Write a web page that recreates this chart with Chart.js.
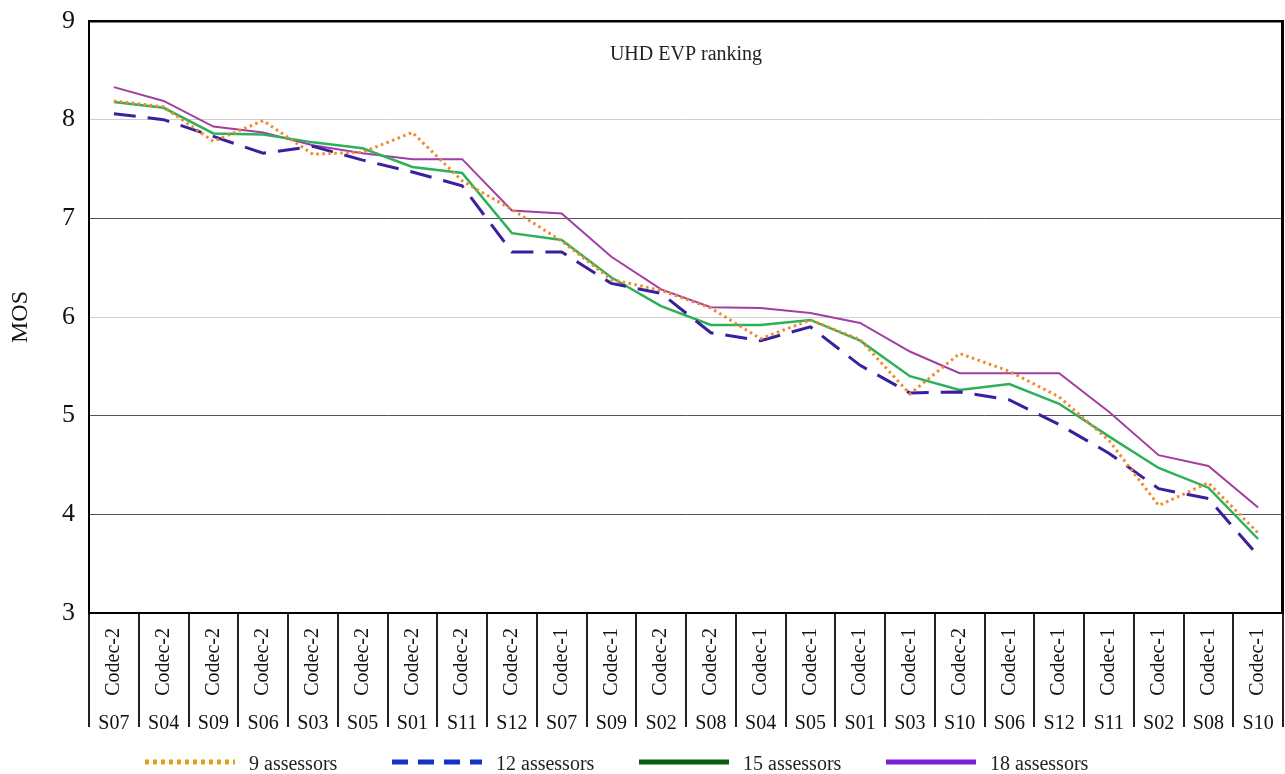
<!DOCTYPE html>
<html lang="en">
<head>
<meta charset="utf-8">
<title>UHD EVP ranking</title>
<script src="https://cdn.jsdelivr.net/npm/chart.js@4.4.1/dist/chart.umd.min.js"></script>
<style>
    html, body { margin: 0; padding: 0; background: #ffffff; }
    #graficoMOS { display: block; }
</style>
</head>
<body>
<canvas id="graficoMOS" width="1285" height="774"></canvas>
<script>
// Datos (orden del ranking)
const codecs = ['Codec-2', 'Codec-2', 'Codec-2', 'Codec-2', 'Codec-2', 'Codec-2', 'Codec-2', 'Codec-2',
    'Codec-2', 'Codec-1', 'Codec-1', 'Codec-2', 'Codec-2', 'Codec-1', 'Codec-1', 'Codec-1',
    'Codec-1', 'Codec-2', 'Codec-1', 'Codec-1', 'Codec-1', 'Codec-1', 'Codec-1', 'Codec-1'];
const secuencias = ['S07', 'S04', 'S09', 'S06', 'S03', 'S05', 'S01', 'S11', 'S12', 'S07', 'S09', 'S02',
    'S08', 'S04', 'S05', 'S01', 'S03', 'S10', 'S06', 'S12', 'S11', 'S02', 'S08', 'S10'];

const mos9 = [8.19, 8.13, 7.78, 7.99, 7.65, 7.67, 7.87, 7.38, 7.09, 6.77, 6.38, 6.27,
    6.09, 5.78, 5.97, 5.77, 5.22, 5.63, 5.45, 5.19, 4.75, 4.09, 4.32, 3.81];
const mos12 = [8.06, 8.00, 7.83, 7.66, 7.73, 7.59, 7.47, 7.33, 6.66, 6.66, 6.34, 6.24,
    5.84, 5.76, 5.90, 5.51, 5.23, 5.24, 5.16, 4.91, 4.62, 4.26, 4.16, 3.58];
const mos15 = [8.18, 8.12, 7.86, 7.85, 7.77, 7.71, 7.52, 7.46, 6.85, 6.78, 6.40, 6.11,
    5.92, 5.92, 5.97, 5.76, 5.40, 5.26, 5.32, 5.12, 4.79, 4.47, 4.27, 3.75];
const mos18 = [8.33, 8.19, 7.93, 7.87, 7.74, 7.66, 7.60, 7.60, 7.08, 7.05, 6.61, 6.28,
    6.10, 6.09, 6.04, 5.94, 5.65, 5.43, 5.43, 5.43, 5.04, 4.60, 4.49, 4.07];

const etiquetas = ['9 assessors', '12 assessors', '15 assessors', '18 assessors'];
const valoresEje = [3, 4, 5, 6, 7, 8, 9];
const tituloInterno = 'UHD EVP ranking';

// Estilos de la leyenda (distintos de los de las líneas, como en el original)
const estilosLeyenda = [
    { color: '#e0a01c', dash: [4, 4] },
    { color: '#1432c8', dash: [16, 10] },
    { color: '#0b5e10', dash: [] },
    { color: '#7a1fd6', dash: [] }
];

const FUENTE = "'Liberation Serif', 'Times New Roman', serif";

document.addEventListener('DOMContentLoaded', function() {
    initGrafico();
});

/**
 * Marco derecho y título interno
 */
const marcoPlugin = {
    id: 'marco',
    afterDraw(chart) {
        const { ctx, chartArea } = chart;
        ctx.save();
        ctx.strokeStyle = '#000';
        ctx.lineWidth = 3;
        ctx.beginPath();
        ctx.moveTo(chartArea.right - 0.5, chartArea.top - 1);
        ctx.lineTo(chartArea.right - 0.5, chartArea.bottom);
        ctx.stroke();

        ctx.fillStyle = '#222';
        ctx.font = '20px ' + FUENTE;
        ctx.textAlign = 'center';
        ctx.textBaseline = 'middle';
        ctx.fillText(tituloInterno, (chartArea.left + chartArea.right) / 2, chartArea.top + 34);
        ctx.restore();
    }
};

/**
 * Leyenda dibujada debajo de los ejes
 */
const leyendaPlugin = {
    id: 'leyenda',
    afterDraw(chart) {
        const ctx = chart.ctx;
        const y = chart.height - 12;
        chart.data.datasets.forEach((ds, i) => {
            const est = estilosLeyenda[i];
            const x0 = 145 + i * 247;
            ctx.save();
            ctx.strokeStyle = est.color;
            ctx.lineWidth = 5;
            ctx.setLineDash(est.dash);
            ctx.beginPath();
            ctx.moveTo(x0, y);
            ctx.lineTo(x0 + 90, y);
            ctx.stroke();
            ctx.restore();

            ctx.save();
            ctx.fillStyle = '#222';
            ctx.font = '20px ' + FUENTE;
            ctx.textAlign = 'left';
            ctx.textBaseline = 'middle';
            ctx.fillText(ds.label, x0 + 104, y + 3);
            ctx.restore();
        });
    }
};

/**
 * Inicializa el gráfico de MOS
 */
function initGrafico() {
    const canvas = document.getElementById('graficoMOS');
    const ctx = canvas.getContext('2d');

    Chart.defaults.font.family = FUENTE;
    Chart.defaults.color = '#111';

    new Chart(ctx, {
        type: 'line',
        data: {
            labels: codecs,
            datasets: [
                {
                    label: etiquetas[0],
                    data: mos9,
                    borderColor: '#f0892b',
                    borderWidth: 3,
                    borderDash: [2.5, 3.5]
                },
                {
                    label: etiquetas[1],
                    data: mos12,
                    borderColor: '#3b1f9e',
                    borderWidth: 3,
                    borderDash: [22, 12]
                },
                {
                    label: etiquetas[2],
                    data: mos15,
                    borderColor: '#2db05a',
                    borderWidth: 2.5
                },
                {
                    label: etiquetas[3],
                    data: mos18,
                    borderColor: '#a23ea3',
                    borderWidth: 2
                }
            ]
        },
        options: {
            responsive: false,
            animation: false,
            layout: {
                padding: { top: 21, right: 2, bottom: 33, left: 0 }
            },
            elements: {
                point: { radius: 0 },
                line: { tension: 0, fill: false, borderCapStyle: 'butt' }
            },
            plugins: {
                legend: { display: false },
                tooltip: { enabled: false }
            },
            scales: {
                x: {
                    type: 'category',
                    position: 'bottom',
                    weight: 1,
                    offset: true,
                    afterFit: (s) => { s.height = 98; },
                    grid: {
                        offset: true,
                        drawOnChartArea: false,
                        drawTicks: true,
                        tickLength: 114,
                        color: '#222',
                        lineWidth: 2
                    },
                    border: { display: true, color: '#000', width: 2 },
                    ticks: {
                        autoSkip: false,
                        minRotation: 90,
                        maxRotation: 90,
                        padding: -99,
                        font: { size: 20 },
                        color: '#111'
                    }
                },
                x2: {
                    type: 'category',
                    position: 'bottom',
                    weight: 2,
                    offset: true,
                    labels: secuencias,
                    afterFit: (s) => { s.height = 30; },
                    grid: { display: false, drawTicks: false },
                    border: { display: false },
                    ticks: {
                        autoSkip: false,
                        maxRotation: 0,
                        padding: 1,
                        font: { size: 20 },
                        color: '#111'
                    }
                },
                y: {
                    min: valoresEje[0],
                    max: valoresEje[valoresEje.length - 1],
                    afterFit: (s) => {
                        s.width = 89;
                        s.paddingTop = 0;
                        s.paddingBottom = 0;
                    },
                    afterBuildTicks: (s) => { s.ticks = valoresEje.map(v => ({ value: v })); },
                    grid: {
                        drawTicks: false,
                        color: (c) => {
                            const v = c.tick ? c.tick.value : 0;
                            if (v === 9) return '#000';
                            if (v === 3) return 'rgba(0,0,0,0)';
                            if (v === 8 || v === 6) return '#cfcfcf';
                            return '#555';
                        },
                        lineWidth: (c) => (c.tick && c.tick.value === 9 ? 2.5 : 1)
                    },
                    border: { display: true, color: '#000', width: 2 },
                    ticks: {
                        padding: 14,
                        font: { size: 26 },
                        color: '#111'
                    },
                    title: {
                        display: true,
                        text: 'MOS',
                        font: { size: 24 },
                        color: '#111',
                        padding: { top: 6, bottom: 0 }
                    }
                }
            }
        },
        plugins: [marcoPlugin, leyendaPlugin]
    });
}
</script>
</body>
</html>
